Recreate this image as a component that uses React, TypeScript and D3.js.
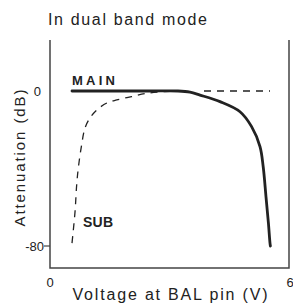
import React, { useEffect, useRef } from 'react';
import * as d3 from 'd3';

// voltage at BAL pin (V) vs attenuation (dB)
const mainV = [0.55, 1.5, 2.5, 3.2, 3.5, 3.75, 4.25, 4.75, 5.04, 5.25, 5.33, 5.4, 5.46, 5.5, 5.51];
const mainDb = [0, 0, 0, 0, -0.6, -2.1, -5.5, -10.7, -18.4, -28.7, -39.1, -54.6, -68.1, -78.5, -80];
const mainRefV = [3.85, 5.5];
const mainRefDb = [0, 0];
const subV = [0.55, 0.625, 0.667, 0.708, 0.79, 0.875, 1.0, 1.17, 1.42, 1.67, 2.04, 2.42, 2.875, 3.375];
const subDb = [-78.5, -62.5, -48.5, -39.7, -27.9, -19.1, -13.9, -9.8, -6.2, -4.6, -2.9, -1.2, -0.25, 0];
const xTicks = [0, 6];
const yTicks = [0, -80];

const W = 293;
const H = 303;
const ink = '#222';
const font = '"Liberation Sans", Arial, Helvetica, sans-serif';

const App = () => {
  const svgRef = useRef<SVGSVGElement>(null);

  useEffect(() => {
    const svg = d3.select(svgRef.current);
    svg.selectAll('*').remove();

    const x = d3.scaleLinear().domain([0, 6]).range([50, 290]);
    const y = d3.scaleLinear().domain([0, -80]).range([91, 246]);
    const top = 40;
    const bottom = 268;

    // frame: left, bottom, right (no top)
    svg.append('path')
      .attr('d', `M${x(0)},${top}V${bottom}H${x(6) - 1}V${top}`)
      .attr('fill', 'none')
      .attr('stroke', '#444')
      .attr('stroke-width', 1.5);

    // small tick at -80
    svg.append('line')
      .attr('x1', x(0) - 6).attr('x2', x(0))
      .attr('y1', y(-80)).attr('y2', y(-80))
      .attr('stroke', '#444')
      .attr('stroke-width', 1.2);

    const line = d3.line<[number, number]>()
      .x(d => x(d[0]))
      .y(d => y(d[1]))
      .curve(d3.curveCatmullRom.alpha(0.5));

    const zip = (a: number[], b: number[]) => a.map((v, i) => [v, b[i]] as [number, number]);

    svg.append('path')
      .attr('d', line(zip(mainRefV, mainRefDb)))
      .attr('fill', 'none')
      .attr('stroke', ink)
      .attr('stroke-width', 1.3)
      .attr('stroke-dasharray', '7,6');

    svg.append('path')
      .attr('d', line(zip(subV, subDb)))
      .attr('fill', 'none')
      .attr('stroke', ink)
      .attr('stroke-width', 1.3)
      .attr('stroke-dasharray', '7,6');

    svg.append('path')
      .attr('d', line(zip(mainV, mainDb)))
      .attr('fill', 'none')
      .attr('stroke', ink)
      .attr('stroke-width', 2.8)
      .attr('stroke-linecap', 'round');

    // y tick labels
    yTicks.forEach(t => {
      svg.append('text')
        .attr('x', t === 0 ? x(0) - 9 : x(0) - 6)
        .attr('y', y(t))
        .attr('dy', '0.35em')
        .attr('text-anchor', 'end')
        .attr('font-family', font)
        .attr('font-size', 13)
        .attr('fill', ink)
        .text(t === 0 ? '0' : '-80');
    });

    // x tick labels
    xTicks.forEach(t => {
      svg.append('text')
        .attr('x', x(t))
        .attr('y', 282)
        .attr('dy', '0.35em')
        .attr('text-anchor', 'middle')
        .attr('font-family', font)
        .attr('font-size', 13)
        .attr('fill', ink)
        .text(String(t));
    });

    svg.append('text')
      .attr('x', 48)
      .attr('y', 25)
      .attr('font-family', font)
      .attr('font-size', 16)
      .attr('textLength', 159)
      .attr('lengthAdjust', 'spacing')
      .attr('fill', ink)
      .text('In dual band mode');

    svg.append('text')
      .attr('x', 72)
      .attr('y', 85)
      .attr('font-family', font)
      .attr('font-size', 13)
      .attr('font-weight', 'bold')
      .attr('textLength', 43)
      .attr('lengthAdjust', 'spacing')
      .attr('fill', ink)
      .text('MAIN');

    svg.append('text')
      .attr('x', 83)
      .attr('y', 227)
      .attr('font-family', font)
      .attr('font-size', 14)
      .attr('font-weight', 'bold')
      .attr('textLength', 30)
      .attr('fill', ink)
      .text('SUB');

    svg.append('text')
      .attr('transform', 'translate(25,158) rotate(-90)')
      .attr('text-anchor', 'middle')
      .attr('font-family', font)
      .attr('font-size', 15)
      .attr('textLength', 137)
      .attr('lengthAdjust', 'spacing')
      .attr('fill', ink)
      .text('Attenuation (dB)');

    svg.append('text')
      .attr('x', 170)
      .attr('y', 300)
      .attr('text-anchor', 'middle')
      .attr('font-family', font)
      .attr('font-size', 16)
      .attr('textLength', 195)
      .attr('lengthAdjust', 'spacing')
      .attr('fill', ink)
      .text('Voltage at BAL pin (V)');
  }, []);

  return (
    <svg ref={svgRef} width={W} height={H}
      style={{ position: 'absolute', left: 0, top: 0, background: '#fff' }} />
  );
};

export default App;
